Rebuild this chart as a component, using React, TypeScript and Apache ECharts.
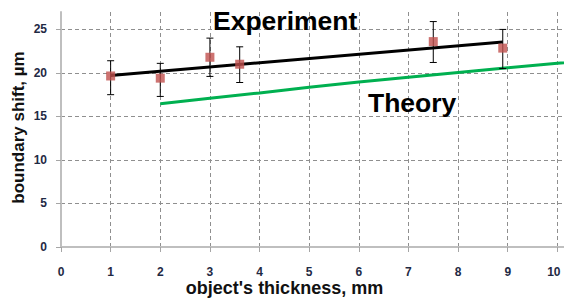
import React, { useEffect, useRef } from "react";
import * as echarts from "echarts";

const expX = [1, 2, 3, 3.6, 7.5, 8.9];
const expY = [19.65, 19.4, 21.8, 21.0, 23.6, 22.85];
const expLow = [17.5, 17.3, 19.6, 18.9, 21.2, 20.5];
const expHigh = [21.4, 21.1, 24.0, 23.0, 25.9, 25.0];

const fitX = [1, 8.9];
const fitY = [19.7, 23.55];

const theoryX = [2, 3, 4, 5, 6, 7, 8, 9, 10, 11];
const theoryY = [16.45, 17.1, 17.7, 18.35, 18.95, 19.5, 20.05, 20.6, 21.1, 21.6];

const xTicks = [0, 1, 2, 3, 4, 5, 6, 7, 8, 9, 10, 11];
const xLabelled = [0, 1, 2, 3, 4, 5, 6, 7, 8, 9, 10];
const yTicks = [0, 5, 10, 15, 20, 25];

const xTitle = "object's thickness, mm";
const yTitle = "boundary shift, µm";

const FONT = "'Liberation Sans', Arial, sans-serif";

export default function App() {
  const ref = useRef<HTMLDivElement>(null);
  useEffect(() => {
    if (!ref.current) return;
    const chart = echarts.init(ref.current, null, { renderer: "svg" });
    const gridDash = { color: "#8f8f8f", type: [4, 3] as any, width: 1 };
    const lastLabel = xLabelled[xLabelled.length - 1];
    chart.setOption({
      animation: false,
      backgroundColor: "#ffffff",
      grid: { left: 61, right: -43, top: 12, bottom: 53, containLabel: false, outerBoundsMode: "none" },
      xAxis: {
        type: "value",
        min: xTicks[0],
        max: xTicks[xTicks.length - 1],
        interval: 1,
        axisLine: { show: true, onZero: false, lineStyle: { color: "#bfbfbf", width: 2 } },
        axisTick: { show: true, length: 5, lineStyle: { color: "#a6a6a6", width: 1 } },
        axisLabel: {
          margin: 19,
          fontFamily: FONT,
          fontWeight: "bold",
          fontSize: 12,
          color: "#1f2a44",
          showMaxLabel: false,
          formatter: (v: number) =>
            v === lastLabel ? `{e|${v}}` : xLabelled.includes(v) ? String(v) : "",
          rich: {
            e: {
              fontFamily: FONT,
              fontWeight: "bold",
              fontSize: 12,
              color: "#1f2a44",
              padding: [0, 7, 0, 0],
            },
          },
        },
        splitLine: { show: true, lineStyle: gridDash, showMinLine: false },
      },
      yAxis: {
        type: "value",
        min: 0,
        max: 27,
        interval: 5,
        axisLine: { show: true, lineStyle: { color: "#bfbfbf", width: 2 } },
        axisTick: { show: true, length: 5, lineStyle: { color: "#a6a6a6", width: 1 } },
        axisLabel: {
          margin: 14,
          fontFamily: FONT,
          fontWeight: "bold",
          fontSize: 12,
          color: "#1f2a44",
          showMaxLabel: false,
          formatter: (v: number) => (yTicks.includes(v) ? String(v) : ""),
        },
        splitLine: { show: true, lineStyle: gridDash, showMinLine: false, showMaxLine: false },
      },
      series: [
        {
          type: "line",
          data: theoryX.map((x, i) => [x, theoryY[i]]),
          showSymbol: false,
          symbol: "none",
          lineStyle: { color: "#00b050", width: 3 },
          z: 2,
        },
        {
          type: "line",
          data: fitX.map((x, i) => [x, fitY[i]]),
          showSymbol: false,
          symbol: "none",
          lineStyle: { color: "#000000", width: 3 },
          z: 3,
        },
        {
          type: "custom",
          data: expX.map((x, i) => [x, expLow[i], expHigh[i]]),
          renderItem: (params: any, api: any) => {
            const x = api.value(0);
            const lo = api.coord([x, api.value(1)]);
            const hi = api.coord([x, api.value(2)]);
            const w = 3.5;
            const st = { stroke: "#000", lineWidth: 1 };
            return {
              type: "group",
              children: [
                { type: "line", shape: { x1: lo[0], y1: lo[1], x2: hi[0], y2: hi[1] }, style: st },
                { type: "line", shape: { x1: lo[0] - w, y1: lo[1], x2: lo[0] + w, y2: lo[1] }, style: st },
                { type: "line", shape: { x1: hi[0] - w, y1: hi[1], x2: hi[0] + w, y2: hi[1] }, style: st },
              ],
            };
          },
          encode: { x: 0, y: [1, 2] },
          z: 4,
        },
        {
          type: "scatter",
          data: expX.map((x, i) => [x, expY[i]]),
          symbol: "rect",
          symbolSize: 9,
          itemStyle: { color: "#c0504d" },
          z: 5,
        },
      ],
      graphic: [
        {
          type: "text",
          x: 213,
          y: 20.5,
          style: {
            text: "Experiment",
            font: `bold 26.5px ${FONT}`,
            fill: "#000",
            verticalAlign: "middle",
          },
          z: 10,
        },
        {
          type: "text",
          x: 368,
          y: 103,
          style: {
            text: "Theory",
            font: `bold 26.5px ${FONT}`,
            fill: "#000",
            verticalAlign: "middle",
          },
          z: 10,
        },
        {
          type: "text",
          x: 284.5,
          y: 287.5,
          style: {
            text: xTitle,
            font: `bold 18px ${FONT}`,
            fill: "#111",
            align: "center",
            verticalAlign: "middle",
          },
          z: 10,
        },
        {
          type: "text",
          x: 18,
          y: 127.5,
          rotation: Math.PI / 2,
          style: {
            text: yTitle,
            font: `bold 17px ${FONT}`,
            fill: "#111",
            align: "center",
            verticalAlign: "middle",
          },
          z: 10,
        },
      ],
    });
    return () => chart.dispose();
  }, []);
  return (
    <div
      ref={ref}
      style={{ position: "absolute", left: 0, top: 0, width: 564, height: 300, overflow: "hidden" }}
    />
  );
}
